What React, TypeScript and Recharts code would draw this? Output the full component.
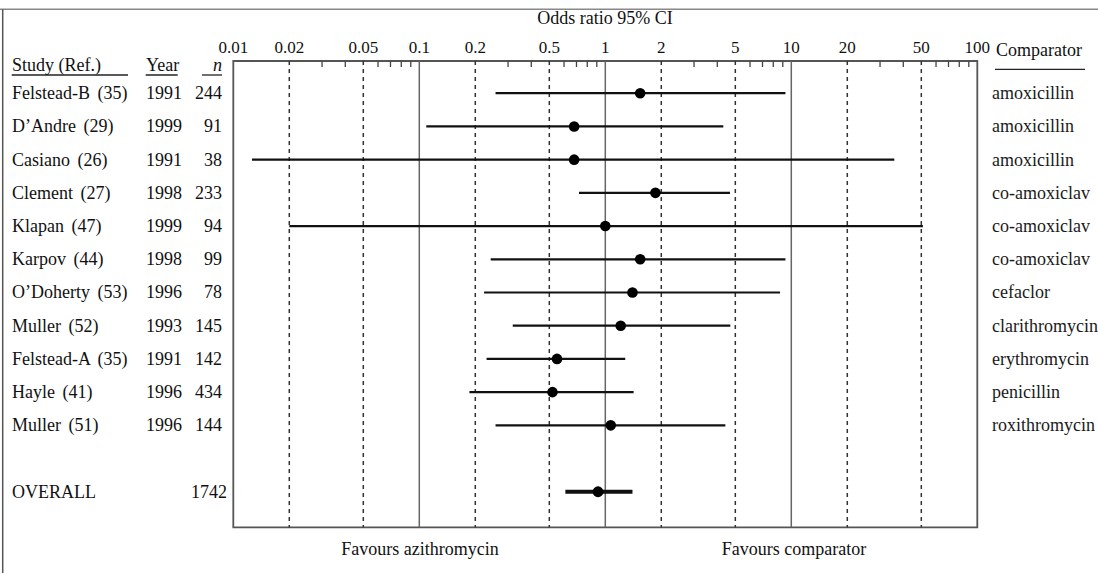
import { ComposedChart, ReferenceArea, ReferenceLine, Scatter, XAxis, YAxis } from "recharts";

const studies = [
  "Felstead-B (35)",
  "D’Andre (29)",
  "Casiano (26)",
  "Clement (27)",
  "Klapan (47)",
  "Karpov (44)",
  "O’Doherty (53)",
  "Muller (52)",
  "Felstead-A (35)",
  "Hayle (41)",
  "Muller (51)",
];
const years = [1991, 1999, 1991, 1998, 1999, 1998, 1996, 1993, 1991, 1996, 1996];
const sizes = [244, 91, 38, 233, 94, 99, 78, 145, 142, 434, 144];
const comparators = [
  "amoxicillin",
  "amoxicillin",
  "amoxicillin",
  "co-amoxiclav",
  "co-amoxiclav",
  "co-amoxiclav",
  "cefaclor",
  "clarithromycin",
  "erythromycin",
  "penicillin",
  "roxithromycin",
];
const oddsRatios = [1.54, 0.68, 0.68, 1.86, 1.0, 1.54, 1.4, 1.21, 0.55, 0.52, 1.07];
const ciLow = [0.257, 0.109, 0.0126, 0.722, 0.02, 0.242, 0.223, 0.318, 0.23, 0.186, 0.257];
const ciHigh = [9.3, 4.31, 35.8, 4.68, 51, 9.3, 8.7, 4.7, 1.28, 1.42, 4.42];

const overallLabel = "OVERALL";
const overallN = 1742;
const overallOr = 0.914;
const overallLow = 0.61;
const overallHigh = 1.4;
const overallRow = 12;

const majorTicks = [0.01, 0.02, 0.05, 0.1, 0.2, 0.5, 1, 2, 5, 10, 20, 50, 100];
const solidLines = [0.1, 1, 10];
const dashedLines = [0.02, 0.05, 0.2, 0.5, 2, 5, 20, 50];
const minorTicks = [
  0.03, 0.04, 0.06, 0.07, 0.08, 0.09, 0.3, 0.4, 0.6, 0.7, 0.8, 0.9, 3, 4, 6, 7, 8, 9, 30, 40, 60, 70,
  80, 90,
];

const yTop = -0.97;
const yBottom = 13.07;
const font = "'Liberation Serif', 'DejaVu Serif', serif";

const studyPoints = studies.map((_, i) => ({ or: oddsRatios[i], row: i }));
const overallPoints = [{ or: overallOr, row: overallRow }];
const rowTicks = [...studies.map((_, i) => i), overallRow];

function StudyTick({ y, payload }: any) {
  const i = payload.value;
  if (i === overallRow) {
    return (
      <g fontFamily={font} fontSize={18} fill="#111">
        <text x={12} y={y} dy={6}>{overallLabel}</text>
        <text x={227} y={y} dy={6} textAnchor="end">{overallN}</text>
      </g>
    );
  }
  return (
    <g fontFamily={font} fontSize={18} fill="#111">
      <text x={12} y={y} dy={6} wordSpacing={3}>{studies[i]}</text>
      <text x={146} y={y} dy={6}>{years[i]}</text>
      <text x={222} y={y} dy={6} textAnchor="end">{sizes[i]}</text>
    </g>
  );
}

function ComparatorTick({ y, payload }: any) {
  const label = comparators[payload.value];
  if (!label) return <g />;
  return (
    <text x={992} y={y} dy={6} fontFamily={font} fontSize={18} fill="#1a1a1a">
      {label}
    </text>
  );
}

const dot = (r: number) => (props: any) => <circle cx={props.cx} cy={props.cy} r={r} fill="#000" />;

export default function App() {
  return (
    <div style={{ position: "absolute", left: 0, top: 0, width: 1098, height: 573, background: "#fff" }}>
      <ComposedChart
        width={1098}
        height={573}
        margin={{ top: 31, right: 0, bottom: 45.7, left: 0 }}
      >
        <XAxis
          type="number"
          dataKey="or"
          scale="log"
          domain={[0.01, 100]}
          allowDataOverflow
          orientation="top"
          height={30}
          ticks={majorTicks}
          interval={0}
          axisLine={false}
          tickLine={false}
          tick={{ fontSize: 17, fill: "#111", fontFamily: font }}
        />
        <YAxis
          yAxisId="left"
          type="number"
          dataKey="row"
          domain={[yTop, yBottom]}
          allowDataOverflow
          reversed
          width={233.3}
          ticks={rowTicks}
          interval={0}
          axisLine={false}
          tickLine={false}
          tick={(p: any) => <StudyTick {...p} />}
        />
        <YAxis
          yAxisId="right"
          orientation="right"
          type="number"
          dataKey="row"
          domain={[yTop, yBottom]}
          allowDataOverflow
          reversed
          width={120.7}
          ticks={studies.map((_, i) => i)}
          interval={0}
          axisLine={false}
          tickLine={false}
          tick={(p: any) => <ComparatorTick {...p} />}
        />

        {solidLines.map((v) => (
          <ReferenceLine key={`s${v}`} yAxisId="left" x={v} stroke="#666" strokeWidth={1.5} />
        ))}
        {dashedLines.map((v) => (
          <ReferenceLine
            key={`d${v}`}
            yAxisId="left"
            x={v}
            stroke="#333"
            strokeWidth={1.5}
            strokeDasharray="4 4"
          />
        ))}
        {minorTicks.map((v) => (
          <ReferenceLine
            key={`m${v}`}
            yAxisId="left"
            segment={[
              { x: v, y: yTop },
              { x: v, y: yTop + 0.18 },
            ]}
            stroke="#444"
            strokeWidth={1.3}
          />
        ))}
        <ReferenceArea
          yAxisId="left"
          x1={0.01}
          x2={100}
          y1={yTop}
          y2={yBottom}
          fill="none"
          stroke="#555"
          strokeWidth={1.8}
        />

        {studies.map((s, i) => (
          <ReferenceLine
            key={s + i}
            yAxisId="left"
            segment={[
              { x: ciLow[i], y: i },
              { x: ciHigh[i], y: i },
            ]}
            stroke="#111"
            strokeWidth={2.2}
          />
        ))}
        <ReferenceLine
          yAxisId="left"
          segment={[
            { x: overallLow, y: overallRow },
            { x: overallHigh, y: overallRow },
          ]}
          stroke="#111"
          strokeWidth={4}
        />

        <Scatter yAxisId="left" data={studyPoints} fill="#000" shape={dot(5.3)} isAnimationActive={false} />
        <Scatter yAxisId="left" data={overallPoints} fill="#000" shape={dot(5.4)} isAnimationActive={false} />
      </ComposedChart>

      <svg
        width={1098}
        height={573}
        style={{ position: "absolute", left: 0, top: 0, pointerEvents: "none" }}
        fontFamily={font}
        fill="#111"
      >
        <line x1={0} y1={9.3} x2={1098} y2={9.3} stroke="#888" strokeWidth={1.5} />
        <line x1={2.7} y1={9.3} x2={2.7} y2={573} stroke="#555" strokeWidth={1.5} />

        <text x={605} y={24} fontSize={18} textAnchor="middle">Odds ratio 95% CI</text>

        <text x={12} y={71.3} fontSize={18}>Study (Ref.)</text>
        <line x1={11.7} y1={75} x2={128} y2={75} stroke="#222" strokeWidth={1.3} />
        <text x={146} y={71.3} fontSize={18}>Year</text>
        <line x1={145.7} y1={75} x2={177.7} y2={75} stroke="#222" strokeWidth={1.3} />
        <text x={213} y={71.3} fontSize={18} fontStyle="italic">n</text>
        <line x1={202} y1={75} x2={222} y2={75} stroke="#222" strokeWidth={1.3} />

        <text x={996} y={56} fontSize={18}>Comparator</text>
        <line x1={995} y1={69.3} x2={1085} y2={69.3} stroke="#222" strokeWidth={1.3} />

        <text x={420} y={555} fontSize={18} textAnchor="middle">Favours azithromycin</text>
        <text x={794} y={555} fontSize={18} textAnchor="middle">Favours comparator</text>
      </svg>
    </div>
  );
}
